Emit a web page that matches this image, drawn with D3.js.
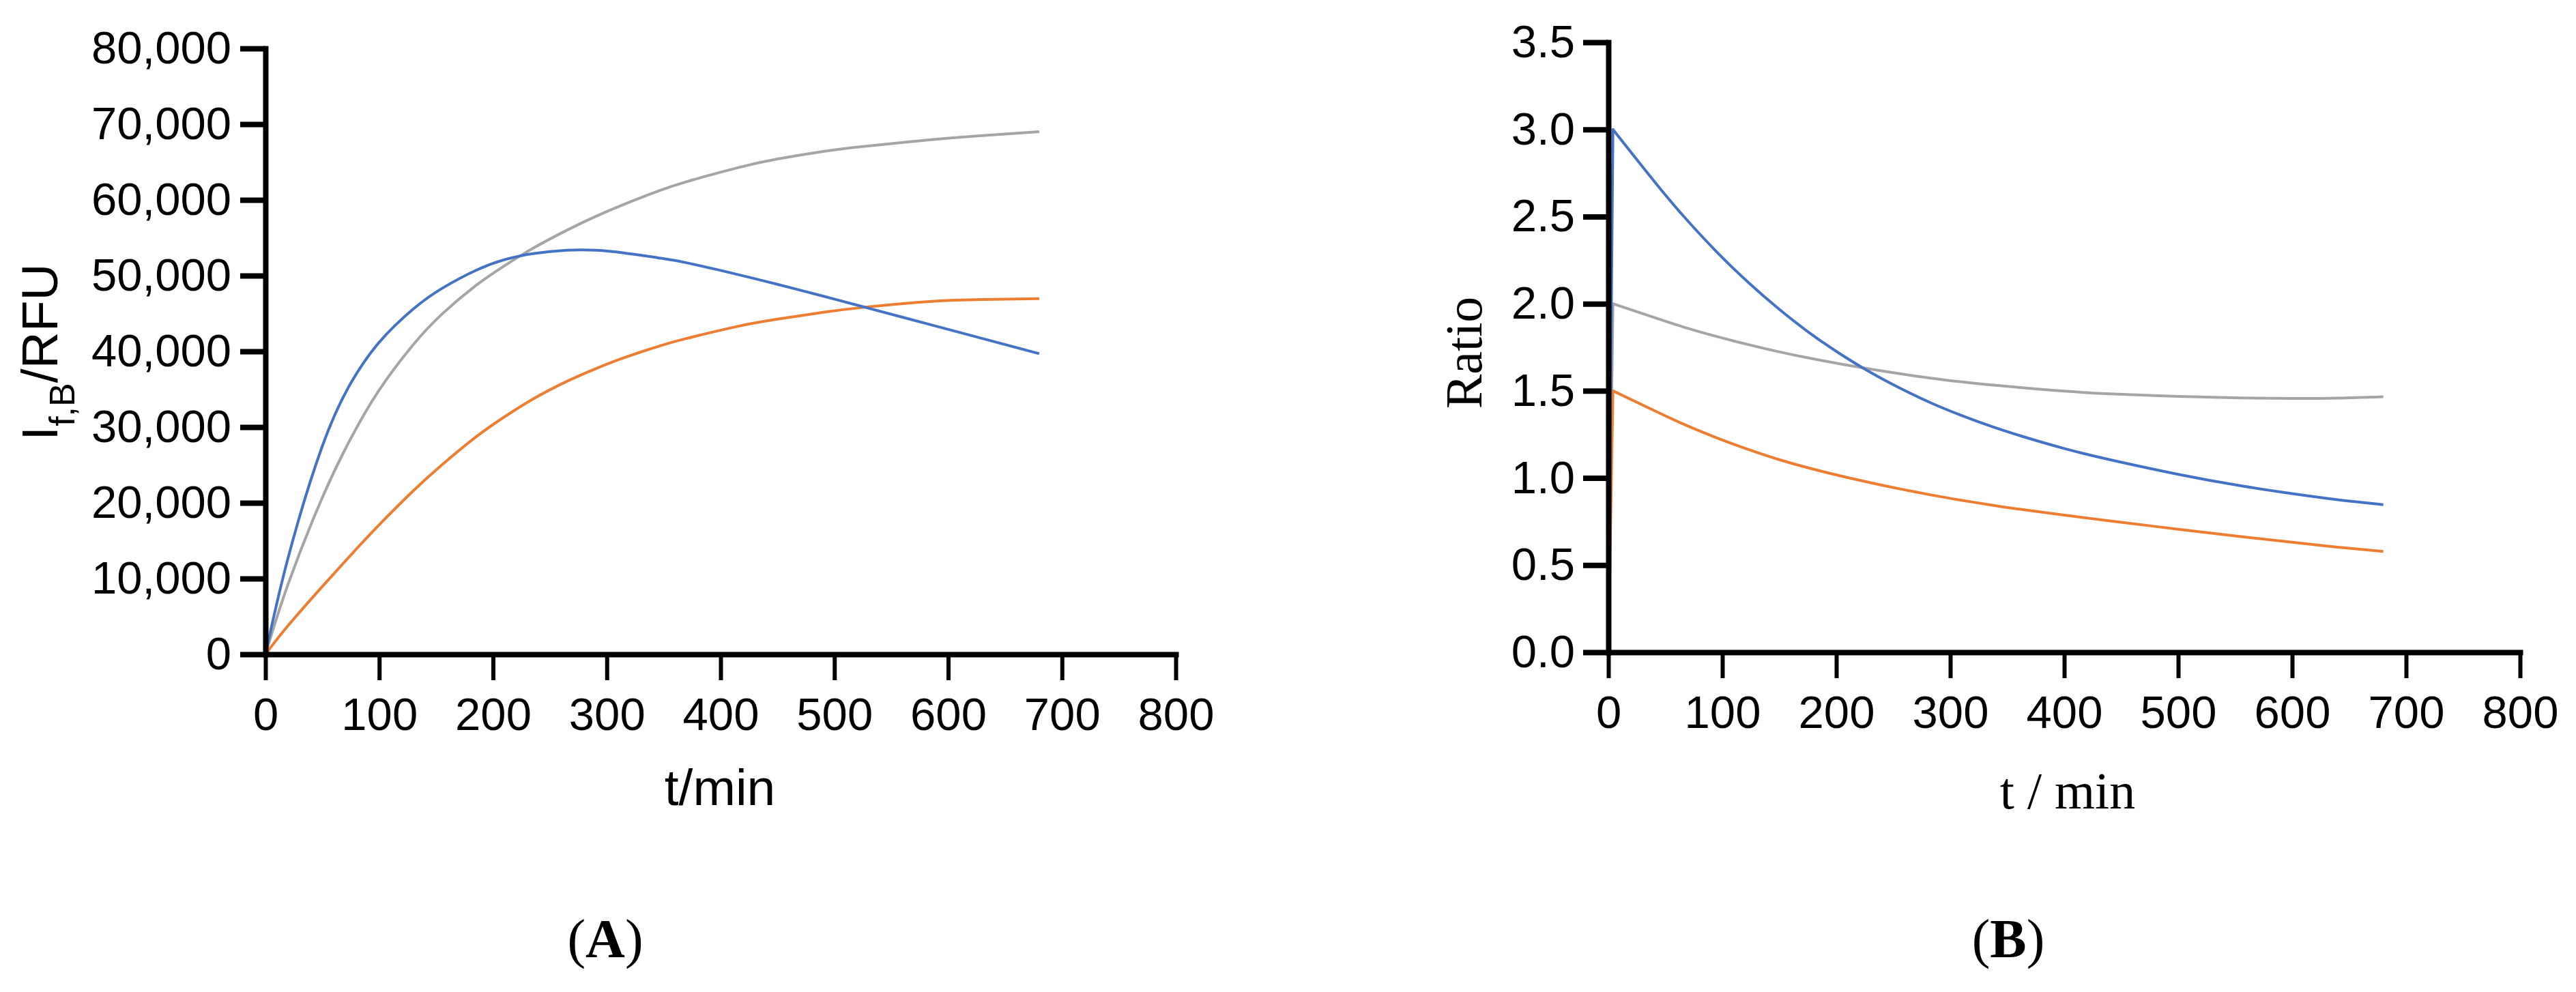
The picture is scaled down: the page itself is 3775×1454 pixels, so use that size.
<!DOCTYPE html>
<html>
<head>
<meta charset="utf-8">
<script src="https://cdn.jsdelivr.net/npm/d3@7"></script>
<style>
    body { margin: 0; background: #ffffff; }
    svg { display: block; }
</style>
</head>
<body>
<svg id="chart"></svg>
<script>
// ---- data ----

// panel A : fluorescence intensity vs time
const timeA   = [0, 20, 50, 75, 100, 130, 155, 185, 210, 235, 265, 290, 315, 345, 370, 415, 450, 490, 525, 585, 630, 680];
const blueA   = [0, 12800, 27500, 35800, 41200, 45600, 48300, 50700, 52100, 52900, 53350, 53350, 53000, 52350, 51700, 50150, 48850, 47300, 45900, 43500, 41700, 39700];
const greyA   = [0, 9300, 20700, 28500, 34900, 40900, 44900, 48700, 51300, 53600, 56000, 57800, 59400, 61150, 62400, 64250, 65400, 66400, 67050, 67950, 68500, 69000];
const orangeA = [0, 3800, 8950, 13100, 17100, 21600, 25000, 28700, 31350, 33700, 36050, 37700, 39150, 40650, 41700, 43300, 44250, 45150, 45800, 46600, 46850, 46950];

// panel B : ratio vs time
const timeB   = [0, 4, 43, 69, 96, 123, 149, 176, 203, 230, 256, 283, 309, 336, 363, 400, 440, 500, 555, 600, 640, 680];
const blueB   = [0, 3.0, 2.68, 2.48, 2.291, 2.121, 1.973, 1.835, 1.714, 1.606, 1.515, 1.431, 1.361, 1.296, 1.239, 1.169, 1.105, 1.021, 0.955, 0.91, 0.875, 0.847];
const greyB   = [0, 2.0, 1.915, 1.86, 1.81, 1.765, 1.725, 1.688, 1.655, 1.625, 1.598, 1.573, 1.552, 1.534, 1.518, 1.498, 1.483, 1.468, 1.459, 1.456, 1.458, 1.466];
const orangeB = [0, 1.50, 1.378, 1.30, 1.228, 1.163, 1.107, 1.057, 1.013, 0.973, 0.937, 0.903, 0.873, 0.845, 0.819, 0.787, 0.754, 0.706, 0.664, 0.631, 0.603, 0.578];

// ticks
const timeTicks   = [0, 100, 200, 300, 400, 500, 600, 700, 800];
const intensTicks = [0, 10000, 20000, 30000, 40000, 50000, 60000, 70000, 80000];
const ratioTicks  = [0, 0.5, 1.0, 1.5, 2.0, 2.5, 3.0, 3.5];

const colors = { blue: '#4472c4', grey: '#a5a5a5', orange: '#ed7d31' };

const W = 3775;
const H = 1454;
const SANS  = '"Liberation Sans", Arial, sans-serif';
const SERIF = '"Liberation Serif", "Times New Roman", serif';

const svg = d3.select('#chart')
    .attr('width', W)
    .attr('height', H);

svg.append('rect')
    .attr('width', W)
    .attr('height', H)
    .attr('fill', '#ffffff');

function zipSeries (time, values) {
    let pts = [];
    for (let i = 0; i < time.length; i++)
        pts.push({ t: time[i], v: values[i] });
    return pts;
}

class Panel {
    constructor (opts) {
        this.x = d3.scaleLinear().domain([0, 800]).range(opts.xRange);
        this.y = d3.scaleLinear().domain(opts.yDomain).range(opts.yRange);
        this.opts = opts;
        this.g = svg.append('g').attr('class', 'panel');
    }
    drawAxes () {
        let opts = this.opts;

        let yAxis = d3.axisLeft(this.y)
            .tickValues(opts.yTicks)
            .tickFormat(opts.yFormat)
            .tickSize(37)
            .tickSizeOuter(0)
            .tickPadding(opts.yPad);

        let xAxis = d3.axisBottom(this.x)
            .tickValues(timeTicks)
            .tickFormat(d3.format('d'))
            .tickSize(38)
            .tickSizeOuter(0)
            .tickPadding(25);

        let gx = this.g.append('g')
            .attr('transform', 'translate(0,' + this.y(0) + ')')
            .call(xAxis);

        let gy = this.g.append('g')
            .attr('transform', 'translate(' + this.x(0) + ',0)')
            .call(yAxis);

        for (let ax of [gx, gy]) {
            ax.select('.domain')
                .attr('stroke', '#000')
                .attr('stroke-width', 8)
                .attr('stroke-linecap', 'square');
            ax.selectAll('text')
                .attr('fill', '#000')
                .style('font-family', SANS)
                .style('font-size', '67px');
        }
        gy.selectAll('.tick line').attr('stroke', '#000').attr('stroke-width', 8);
        gx.selectAll('.tick line').attr('stroke', '#000').attr('stroke-width', 6);
    }
    drawSeries (time, values, color, rise) {
        let pts = zipSeries(time, values);
        let x = this.x;
        let y = this.y;

        let line = d3.line()
            .x((d) => { return x(d.t); })
            .y((d) => { return y(d.v); })
            .curve(d3.curveNatural);

        let style = (p) => {
            p.attr('fill', 'none')
             .attr('stroke', color)
             .attr('stroke-width', 4)
             .attr('stroke-linejoin', 'round');
        };

        if (rise) {
            // first step jumps up from zero, then the decay is smooth
            this.g.append('path')
                .datum(pts.slice(0, 2))
                .attr('d', line.curve(d3.curveLinear))
                .call(style)
                .attr('stroke-linecap', 'round');
            line.curve(d3.curveNatural);
            pts = pts.slice(1);
        }

        this.g.append('path')
            .datum(pts)
            .attr('d', line)
            .call(style);
    }
}

// ---- panel A ----
let panelA = new Panel({
    xRange: [389, 1723],
    yDomain: [0, 80000],
    yRange: [959, 71],
    yTicks: intensTicks,
    yFormat: d3.format(','),
    yPad: 13
});
panelA.drawSeries(timeA, greyA, colors.grey, false);
panelA.drawSeries(timeA, orangeA, colors.orange, false);
panelA.drawSeries(timeA, blueA, colors.blue, false);
panelA.drawAxes();

svg.append('text')
    .attr('x', 1055)
    .attr('y', 1180)
    .attr('text-anchor', 'middle')
    .style('font-family', SANS)
    .style('font-size', '75px')
    .text('t/min');

let titleA = svg.append('text')
    .attr('transform', 'translate(84,516) rotate(-90)')
    .attr('text-anchor', 'middle')
    .style('font-family', SANS)
    .style('font-size', '75px');
titleA.append('tspan').text('I');
titleA.append('tspan').attr('dy', 25).style('font-size', '52px').text('f,B');
titleA.append('tspan').attr('dy', -25).text('/RFU');

// ---- panel B ----
let panelB = new Panel({
    xRange: [2357, 3693],
    yDomain: [0, 3.5],
    yRange: [956, 62],
    yTicks: ratioTicks,
    yFormat: d3.format('.1f'),
    yPad: 12
});
panelB.drawSeries(timeB, greyB, colors.grey, true);
panelB.drawSeries(timeB, orangeB, colors.orange, true);
panelB.drawSeries(timeB, blueB, colors.blue, true);
panelB.drawAxes();

svg.append('text')
    .attr('x', 3030)
    .attr('y', 1185)
    .attr('text-anchor', 'middle')
    .style('font-family', SERIF)
    .style('font-size', '76px')
    .text('t / min');

svg.append('text')
    .attr('transform', 'translate(2171,517) rotate(-90)')
    .attr('text-anchor', 'middle')
    .style('font-family', SERIF)
    .style('font-size', '76px')
    .text('Ratio');

// ---- panel captions ----
for (let cap of [{ x: 887, s: 'A' }, { x: 2943, s: 'B' }]) {
    let t = svg.append('text')
        .attr('x', cap.x)
        .attr('y', 1403)
        .attr('text-anchor', 'middle')
        .style('font-family', SERIF)
        .style('font-size', '80px');
    t.append('tspan').text('(');
    t.append('tspan').style('font-weight', 'bold').text(cap.s);
    t.append('tspan').text(')');
}
</script>
</body>
</html>
